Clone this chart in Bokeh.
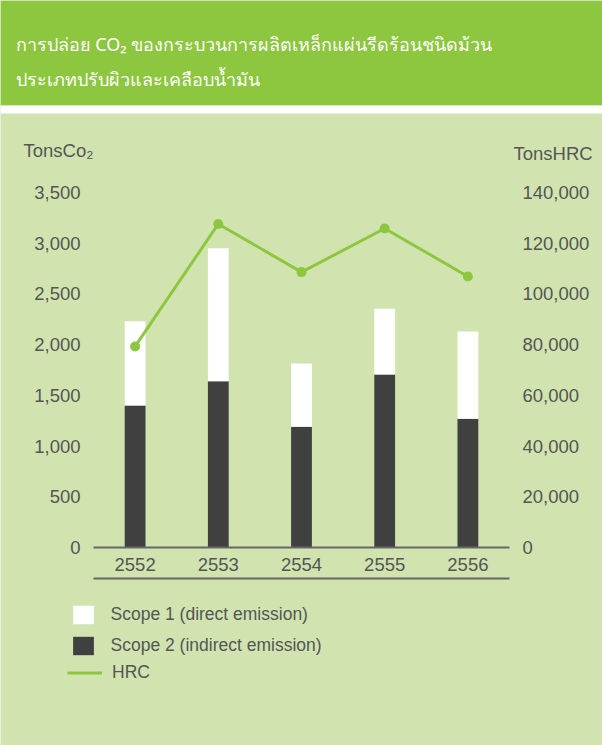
from bokeh.plotting import figure
from bokeh.models import (ColumnDataSource, Range1d, FactorRange, LinearAxis, CategoricalAxis,
                          FixedTicker, NumeralTickFormatter, Legend, LegendItem, Label, BoxAnnotation)
from bokeh.embed import file_html
from bokeh.resources import INLINE

# ---- data ----
years = ["2552", "2553", "2554", "2555", "2556"]
scope1 = [830, 1310, 625, 650, 860]        # direct emission (white, top)
scope2 = [1400, 1640, 1190, 1705, 1270]    # indirect emission (dark, bottom)
hrc = [79300, 127600, 108600, 125800, 106900]
co2_ticks = [0, 500, 1000, 1500, 2000, 2500, 3000, 3500]
hrc_ticks = [0, 20000, 40000, 60000, 80000, 100000, 120000, 140000]
title_lines = ["การปล่อย CO₂ ของกระบวนการผลิตเหล็กแผ่นรีดร้อนชนิดม้วน",
               "ประเภทปรับผิวและเคลือบน้ำมัน"]
left_title = "TonsCo₂"
right_title = "TonsHRC"
legend_labels = ["Scope 1 (direct emission)", "Scope 2 (indirect emission)", "HRC"]

GREEN = "#8DC63F"
PANEL = "#D1E4B0"
DARK = "#404040"
TEXT = "#555555"
AXIS = "#666666"
FONT = "Liberation Sans"

# ---- layout geometry (pixels) ----
W, H = 602, 745
ZERO_PX = 547              # canvas y of value 0
PLOT_PX = 355              # pixels spanning 0..3500
CO2_MAX, HRC_MAX = 3500, 140000
U = CO2_MAX / PLOT_PX      # data units per pixel
y_lo = -(H - ZERO_PX) * U
y_hi = ZERO_PX * U
k = HRC_MAX / CO2_MAX

def yv(canvas_y):
    return (ZERO_PX - canvas_y) * U

tops = [a + b for a, b in zip(scope1, scope2)]
src = ColumnDataSource(dict(year=years, s1=scope1, s2=scope2, top=tops, hrc=hrc))

p = figure(width=W, height=H,
           x_range=FactorRange(factors=years, range_padding=1.118, range_padding_units="absolute"),
           y_range=Range1d(y_lo, y_hi), toolbar_location=None, output_backend="svg",
           min_border=0, background_fill_color=PANEL, border_fill_color=PANEL,
           outline_line_color=None)
p.extra_y_ranges = {"hrc": Range1d(y_lo * k, y_hi * k)}
p.grid.visible = False

# header band + white gap
p.add_layout(BoxAnnotation(bottom=yv(105), fill_color=GREEN, fill_alpha=1, line_color=None))
p.add_layout(BoxAnnotation(bottom=yv(113), top=yv(105), fill_color="white", fill_alpha=1, line_color=None))
for t, cy in zip(title_lines, [43, 78]):
    p.add_layout(Label(x=15, y=H - cy, x_units="screen", y_units="screen", text=t,
                       text_baseline="middle", text_align="left",
                       text_color="white", text_font="Noto Sans", text_font_size="18px"))

r2 = p.vbar(x="year", bottom=0, top="s2", width=0.25, source=src, fill_color=DARK, line_color=None)
r1 = p.vbar(x="year", bottom="s2", top="top", width=0.25, source=src, fill_color="white", line_color=None)
rl = p.line(x="year", y="hrc", source=src, y_range_name="hrc", line_color=GREEN, line_width=3)
p.scatter(x="year", y="hrc", source=src, y_range_name="hrc", size=10, fill_color=GREEN, line_color=None)

# x axes
xa = p.xaxis[0]
xa.fixed_location = 0
xa.bounds = (0, len(years))
xa.axis_line_color = AXIS
xa.axis_line_width = 2
xa.major_tick_line_color = None
xa.major_tick_out = 0
xa.major_tick_in = 0
xa.major_label_standoff = 10
xa.major_label_text_font = FONT
xa.major_label_text_font_size = "18.5px"
xa.major_label_text_color = TEXT

xa2 = CategoricalAxis(fixed_location=yv(578), bounds=(0, len(years)),
                      axis_line_color=AXIS, axis_line_width=2, major_tick_line_color=None,
                      major_tick_out=0, major_tick_in=0, major_label_text_alpha=0)
p.add_layout(xa2, "below")

# y axes
ya = p.yaxis[0]
ya.fixed_location = 0
ya.ticker = FixedTicker(ticks=co2_ticks)
ya.formatter = NumeralTickFormatter(format="0,0")
ra = LinearAxis(y_range_name="hrc", fixed_location=len(years), ticker=FixedTicker(ticks=hrc_ticks),
                formatter=NumeralTickFormatter(format="0,0"))
p.add_layout(ra, "right")
for ax in (ya, ra):
    ax.axis_line_color = None
    ax.major_tick_line_color = None
    ax.minor_tick_line_color = None
    ax.major_tick_out = 0
    ax.major_tick_in = 0
    ax.major_label_standoff = 13
    ax.major_label_text_font = FONT
    ax.major_label_text_font_size = "18.5px"
    ax.major_label_text_color = TEXT

# axis titles
p.add_layout(Label(x=23, y=H - 150, x_units="screen", y_units="screen", text=left_title,
                   text_baseline="middle", text_font=FONT, text_font_size="18.5px", text_color=TEXT))
p.add_layout(Label(x=513, y=H - 153, x_units="screen", y_units="screen", text=right_title,
                   text_baseline="middle", text_font=FONT, text_font_size="18.5px", text_color=TEXT))

# legends
lg1 = Legend(items=[LegendItem(label=legend_labels[0], renderers=[r1]),
                    LegendItem(label=legend_labels[1], renderers=[r2])],
             location=(69.5, H - 656.5), glyph_width=26, glyph_height=23, label_height=23,
             spacing=8, padding=0, margin=0, label_standoff=15,
             background_fill_alpha=0, border_line_color=None,
             label_text_font=FONT, label_text_font_size="17.5px", label_text_color=TEXT)
lg2 = Legend(items=[LegendItem(label=legend_labels[2], renderers=[rl])],
             location=(67, H - 683.5), glyph_width=35, glyph_height=23, label_height=23,
             spacing=8, padding=0, margin=0, label_standoff=10,
             background_fill_alpha=0, border_line_color=None,
             label_text_font=FONT, label_text_font_size="17.5px", label_text_color=TEXT)
p.add_layout(lg1)
p.add_layout(lg2)

open("out.html", "w").write(file_html(p, INLINE))
